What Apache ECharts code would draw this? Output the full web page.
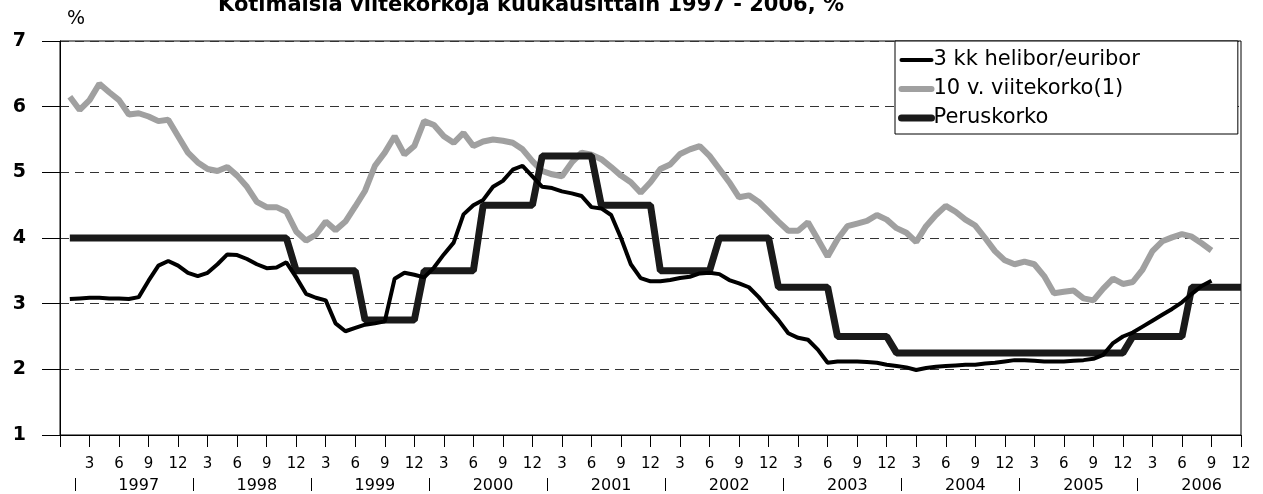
<!DOCTYPE html>
<html>
<head>
<meta charset="utf-8">
<script src="https://cdn.jsdelivr.net/npm/echarts@6/dist/echarts.min.js"></script>
<style>
html,body{margin:0;padding:0;background:#fff;}
#chart{width:1263px;height:494px;}
</style>
</head>
<body>
<div id="chart"></div>
<script>
// Monthly values, Jan 1997 .. Dec 2006 (month number 1..120)
var titleText = 'Kotimaisia viitekorkoja kuukausittain 1997 - 2006, %';
var seriesNames = ['3 kk helibor/euribor', '10 v. viitekorko(1)', 'Peruskorko'];
var years = ['1997','1998','1999','2000','2001','2002','2003','2004','2005','2006'];

var helibor = [
  3.07,3.08,3.09,3.09,3.08,3.08,3.07,3.10,3.35,3.58,3.65,3.58,
  3.47,3.42,3.47,3.60,3.75,3.74,3.68,3.60,3.54,3.55,3.63,3.40,
  3.15,3.09,3.05,2.70,2.58,2.63,2.68,2.70,2.73,3.38,3.47,3.44,
  3.40,3.55,3.75,3.93,4.36,4.50,4.58,4.78,4.87,5.04,5.10,4.94,
  4.78,4.76,4.71,4.68,4.64,4.47,4.45,4.35,4.00,3.60,3.39,3.34,
  3.34,3.36,3.39,3.41,3.46,3.47,3.45,3.36,3.31,3.25,3.10,2.92,
  2.75,2.55,2.48,2.45,2.30,2.10,2.12,2.12,2.12,2.11,2.10,2.07,
  2.05,2.03,1.99,2.02,2.04,2.05,2.06,2.07,2.07,2.09,2.10,2.12,
  2.14,2.14,2.13,2.12,2.12,2.12,2.13,2.14,2.16,2.22,2.40,2.50,
  2.56,2.65,2.74,2.83,2.92,3.02,3.15,3.27,3.35
];
var viitekorko = [
  6.15,5.95,6.10,6.35,6.22,6.10,5.88,5.90,5.85,5.78,5.80,5.55,
  5.30,5.15,5.05,5.02,5.08,4.95,4.78,4.55,4.47,4.47,4.40,4.10,
  3.96,4.05,4.25,4.12,4.25,4.48,4.72,5.10,5.30,5.55,5.27,5.40,
  5.78,5.72,5.55,5.45,5.60,5.40,5.47,5.50,5.48,5.45,5.35,5.17,
  5.02,4.97,4.94,5.15,5.30,5.27,5.20,5.08,4.95,4.85,4.69,4.85,
  5.05,5.12,5.28,5.35,5.40,5.25,5.05,4.85,4.62,4.65,4.55,4.40,
  4.25,4.11,4.11,4.24,3.98,3.72,3.98,4.18,4.22,4.26,4.35,4.28,
  4.15,4.08,3.94,4.18,4.35,4.49,4.40,4.28,4.19,4.00,3.80,3.66,
  3.60,3.64,3.60,3.42,3.16,3.18,3.20,3.08,3.05,3.23,3.38,3.30,
  3.33,3.52,3.80,3.95,4.01,4.06,4.02,3.92,3.81
];
var peruskorko = [
  4,4,4,4,4,4,4,4,4,4,4,4,
  4,4,4,4,4,4,4,4,4,4,4,3.5,
  3.5,3.5,3.5,3.5,3.5,3.5,2.75,2.75,2.75,2.75,2.75,2.75,
  3.5,3.5,3.5,3.5,3.5,3.5,4.5,4.5,4.5,4.5,4.5,4.5,
  5.25,5.25,5.25,5.25,5.25,5.25,4.5,4.5,4.5,4.5,4.5,4.5,
  3.5,3.5,3.5,3.5,3.5,3.5,4,4,4,4,4,4,
  3.25,3.25,3.25,3.25,3.25,3.25,2.5,2.5,2.5,2.5,2.5,2.5,
  2.25,2.25,2.25,2.25,2.25,2.25,2.25,2.25,2.25,2.25,2.25,2.25,
  2.25,2.25,2.25,2.25,2.25,2.25,2.25,2.25,2.25,2.25,2.25,2.25,
  2.5,2.5,2.5,2.5,2.5,2.5,3.25,3.25,3.25,3.25,3.25,3.25
];

function toPairs(arr){ return arr.map(function(v,i){ return [i+1, v]; }); }

var yearLabelPos = years.map(function(y,i){ return 8 + 12*i; });
var yearSepPos = years.map(function(y,i){ return 1.5 + 12*i; });

var font = '"DejaVu Sans", "Liberation Sans", Arial, sans-serif';
var colors = ['#000000', '#a0a0a0', '#1a1a1a'];
var widths = [4, 6, 7];

var chart = echarts.init(document.getElementById('chart'), null, {renderer:'canvas'});
chart.setOption({
  animation: false,
  backgroundColor: '#fff',
  title: {
    text: titleText,
    left: 213, top: -10,
    textStyle: {fontFamily: font, fontSize: 21, fontWeight: 'bold', color: '#000'}
  },
  legend: {
    orient: 'vertical',
    left: 895, top: 41,
    data: seriesNames.map(function(n, i){
      return {name: n, itemStyle: {opacity: 0}, lineStyle: {width: widths[i], color: colors[i], cap: 'round'}};
    }),
    itemWidth: 30, itemHeight: 8,
    itemGap: 7,
    padding: [8, 98, 5, 3],
    borderColor: '#000', borderWidth: 1,
    backgroundColor: '#fff',
    textStyle: {fontFamily: font, fontSize: 21, color: '#000', lineHeight: 22, padding: [0,0,0,-3]}
  },
  grid: {left: 60, right: 22, top: 41, bottom: 57, show: true, borderColor: '#000', borderWidth: 1},
  xAxis: [{
    type: 'value', min: 0, max: 120, interval: 3,
    axisLine: {show: true, lineStyle: {color: '#000', width: 1}},
    axisTick: {show: true, length: 12, lineStyle: {color: '#000'}},
    splitLine: {show: false},
    axisLabel: {
      margin: 22, fontFamily: font, fontSize: 15, color: '#000',
      formatter: function(v){ if (v === 0) return ''; var m = v % 12; return String(m === 0 ? 12 : m); }
    }
  }, {
    type: 'value', min: 0, max: 120, position: 'bottom', offset: 43,
    axisLine: {show: false},
    axisTick: {show: true, length: 13, customValues: yearSepPos, lineStyle: {color: '#000'}},
    splitLine: {show: false},
    axisLabel: {
      margin: 0, fontFamily: font, fontSize: 16, color: '#000',
      customValues: yearLabelPos,
      formatter: function(v){ return years[Math.round((v - 8) / 12)]; }
    }
  }],
  yAxis: {
    type: 'value', min: 1, max: 7, interval: 1,
    name: '%', nameLocation: 'end', nameGap: 12,
    nameTextStyle: {fontFamily: font, fontSize: 19, color: '#000', align: 'left', padding: [0,0,0,7]},
    axisLine: {show: true, lineStyle: {color: '#000', width: 1}},
    axisTick: {show: true, inside: false, length: 18, lineStyle: {color: '#000'}},
    axisLabel: {margin: 34, fontFamily: font, fontSize: 19, fontWeight: 'bold', color: '#000'},
    splitLine: {show: true, lineStyle: {color: '#333', width: 1, type: [9, 6]}}
  },
  series: [{
    name: seriesNames[0], type: 'line', data: toPairs(helibor),
    symbol: 'none', z: 4,
    lineStyle: {color: colors[0], width: widths[0]}, itemStyle: {color: colors[0]}
  }, {
    name: seriesNames[1], type: 'line', data: toPairs(viitekorko),
    symbol: 'none', z: 2,
    lineStyle: {color: colors[1], width: widths[1]}, itemStyle: {color: colors[1]}
  }, {
    name: seriesNames[2], type: 'line', data: toPairs(peruskorko),
    symbol: 'none', z: 3,
    lineStyle: {color: colors[2], width: widths[2]}, itemStyle: {color: colors[2]}
  }]
});
</script>
</body>
</html>
